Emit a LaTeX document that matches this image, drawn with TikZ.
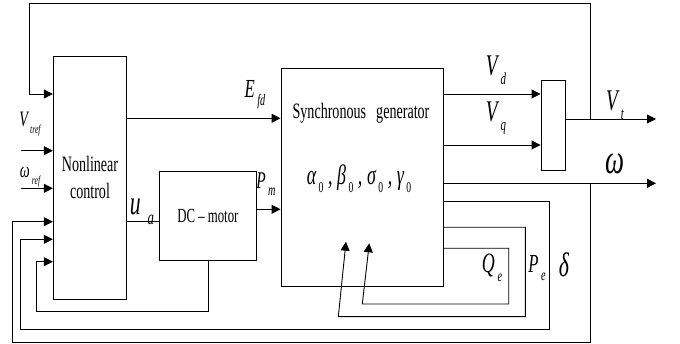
\documentclass[tikz,border=0pt]{standalone}
\usepackage{fontspec}
\setmainfont{Liberation Serif}[FakeStretch=0.64]
\usetikzlibrary{arrows.meta}
\newcommand\lab[4]{{\fontsize{#1}{#1}\selectfont\itshape #3\hspace{0.1em}\raisebox{-0.3em}{\fontsize{#2}{#2}\selectfont #4}}}
\newcommand\zsub{\raisebox{-0.3em}{\fontsize{15}{15}\selectfont\upshape\ 0}}
\begin{document}
\begin{tikzpicture}[x=1pt,y=-1pt,line width=0.9pt,
  arr/.style={-{Triangle[length=9pt,width=9pt]}},
  blk/.style={draw,line width=0.9pt,inner sep=0pt},
  lbl/.style={inner sep=0pt,anchor=center}]
\useasboundingbox (0,0) rectangle (680,344);
% blocks
\node[blk,minimum width=73.4pt,minimum height=243pt,align=center,font=\fontsize{22}{27}\selectfont] (nl) at (90,177.5) {Nonlinear\\control};
\node[blk,minimum width=97.7pt,minimum height=89pt,font=\fontsize{20}{22}\selectfont] (dc) at (207.85,215.5) {DC – motor};
\node[blk,minimum width=162pt,minimum height=217.7pt] (sg) at (362,177.15) {};
\node[blk,minimum width=24.7pt,minimum height=90pt] (cb) at (553.35,125.7) {};
\node[lbl,font=\fontsize{22}{24}\selectfont] (sgt) at (361,113) {Synchronous\hspace{0.3em} generator};
\node[lbl] (par) at (359,179) {\fontsize{28}{28}\selectfont\itshape α\zsub\,,\,β\zsub\,,\,σ\zsub\,,\,γ\zsub};
% coordinates
\coordinate (yfb) at (0,94);
\coordinate (yvref) at (0,150.7);
\coordinate (ywref) at (0,188.3);
\coordinate (yw) at (0,221.7);
\coordinate (ydel) at (0,239.3);
\coordinate (ydc) at (0,261.7);
\coordinate (yefd) at (0,118.3);
\coordinate (ypm) at (0,209.3);
\coordinate (yvd) at (0,94);
\coordinate (yvq) at (0,145);
\coordinate (vtb) at (590.7,119);
\coordinate (vtend) at (656,119);
\coordinate (tl) at (29,3.5);
\coordinate (wb) at (590.7,183.3);
\coordinate (wend) at (656,183.3);
\coordinate (wbl) at (12.3,342.7);
\coordinate (dr) at (549.3,201.7);
\coordinate (dbl) at (20.7,329.3);
\coordinate (pr) at (525.3,227.3);
\coordinate (pbr) at (525.3,316.7);
\coordinate (pbl) at (338.3,316.7);
\coordinate (ptip) at (346,241.7);
\coordinate (qr) at (508.7,248.3);
\coordinate (qbr) at (508.7,304);
\coordinate (qbl) at (362.3,304);
\coordinate (qtip) at (369.3,243.3);
\coordinate (dcb) at (208.7,311.7);
\coordinate (dcl) at (36.7,311.7);
\coordinate (vrs) at (20.7,150.7);
\coordinate (wrs) at (20.7,188.3);
% connectors
\draw[arr] (vrs) -- (nl.west |- vrs);
\draw[arr] (wrs) -- (nl.west |- wrs);
\draw[arr] (nl.east |- yefd) -- (sg.west |- yefd);
\draw (nl.east |- yw) -- (dc.west |- yw);
\draw[arr] (dc.east |- ypm) -- (sg.west |- ypm);
\draw[arr] (sg.east |- yvd) -- (cb.west |- yvd);
\draw[arr] (sg.east |- yvq) -- (cb.west |- yvq);
\draw[arr] (cb.east |- vtb) -- (vtend);
\draw[arr] (vtb) |- (tl) |- (nl.west |- yfb);
\draw[arr] (sg.east |- wend) -- (wend);
\draw[arr] (wb) |- (wbl) |- (nl.west |- yw);
\draw[arr] (sg.east |- dr) -- (dr) |- (dbl) |- (nl.west |- ydel);
\draw[arr] (sg.east |- pr) -- (pr) -- (pbr) -- (pbl) -- (ptip);
\draw[arr] (sg.east |- qr) -- (qr) -- (qbr) -- (qbl) -- (qtip);
\draw[arr] (dc.south -| dcb) -- (dcb) -- (dcl) |- (nl.west |- ydc);
% labels
\node[lbl] (lvd) at (496,70) {\lab{30}{17}{V}{d}};
\node[lbl] (lvq) at (496,118) {\lab{30}{17}{V}{q}};
\node[lbl] (lvt) at (615,105) {\lab{30}{17}{V}{t}};
\node[lbl] (lw) at (615,164) {\fontsize{42}{42}\selectfont\itshape ω};
\node[lbl] (lefd) at (255,95) {\lab{26}{16}{E}{fd}};
\node[lbl] (lpm) at (266,184) {\lab{24}{16}{P}{m}};
\node[lbl] (lua) at (142,212) {\lab{34}{20}{u}{\,a}};
\node[lbl] (lvref) at (30,124) {\lab{22}{12}{V}{tref}};
\node[lbl] (lwref) at (30,177) {\lab{22}{12}{ω}{ref}};
\node[lbl] (lqe) at (492,268) {\lab{28}{16}{Q}{e}};
\node[lbl] (lpe) at (537,268) {\lab{26}{16}{P}{e}};
\node[lbl] (ld) at (564,265) {\fontsize{34}{34}\selectfont\itshape δ};
\end{tikzpicture}
\end{document}
